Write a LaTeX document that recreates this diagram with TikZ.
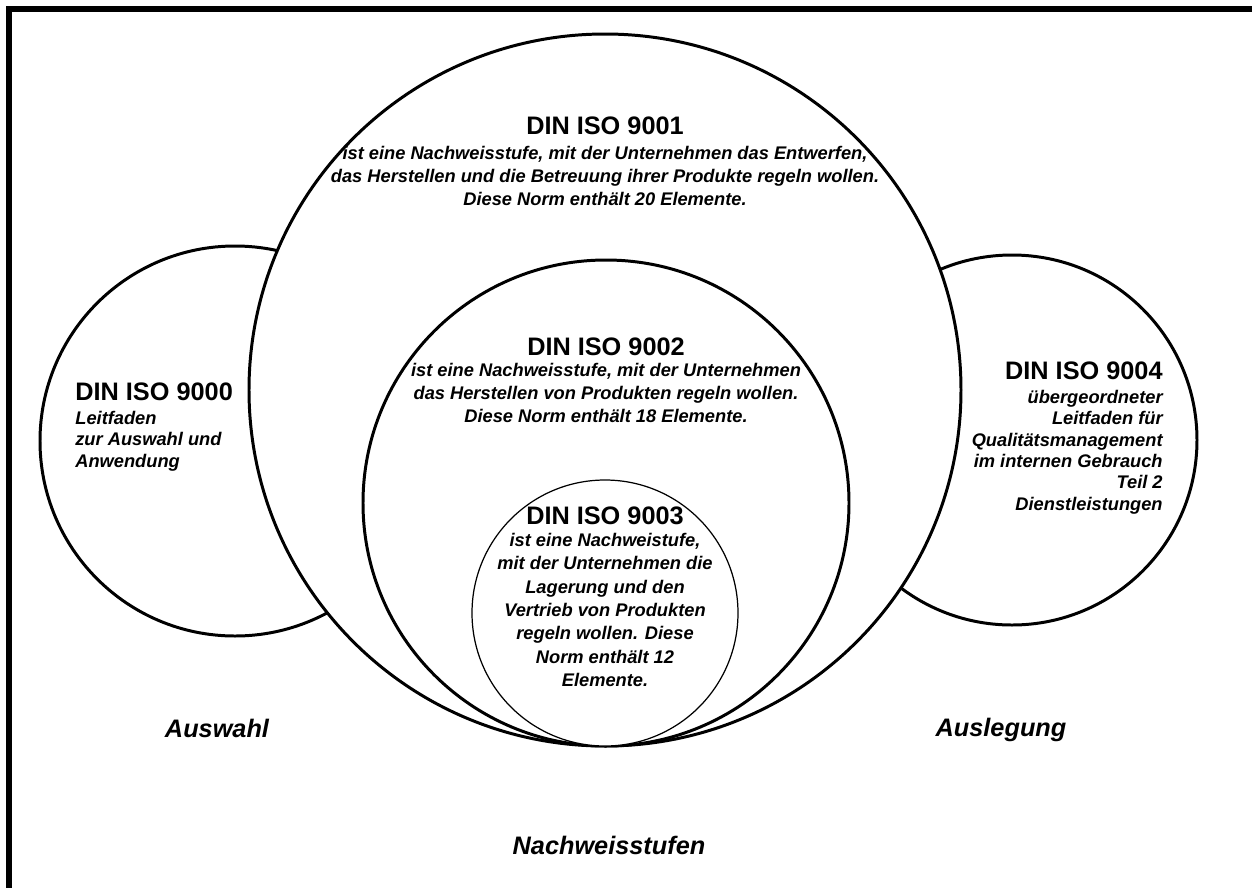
\documentclass[tikz,border=0pt]{standalone}
\usepackage{fontspec}
\setmainfont{Liberation Sans}
\begin{document}
\begin{tikzpicture}[x=0.02cm, y=-0.02cm,
  ring/.style={draw=black, fill=white, line width=1.7pt},
  thinring/.style={draw=black, fill=white, line width=0.7pt},
  head/.style={font=\fontsize{14.4}{17}\selectfont\bfseries, inner sep=0pt},
  body/.style={font=\fontsize{10.4}{13.3}\selectfont\bfseries\itshape, align=center, inner sep=0pt},
  sidebody/.style={font=\fontsize{10.4}{12.2}\selectfont\bfseries\itshape, inner sep=0pt},
  biglabel/.style={font=\fontsize{14.4}{17}\selectfont\bfseries\itshape, inner sep=0pt}]
\useasboundingbox (0,0) rectangle (1252,887);
% frame
\draw[line width=3.4pt] (9,900) -- (9,9) -- (1265,9);
% side circles
\draw[ring] (235,441) circle[radius=195];
\draw[ring] (1012,440) circle[radius=185];
% nested circles
\draw[ring] (605,390) circle[radius=356];
\draw[ring] (606,503) circle[radius=243];
\draw[thinring] (605,613) circle[radius=133];
% texts
\node[head] (h9001) at (605,126) {DIN ISO 9001};
\node[body] (b9001) at (605,176) {ist eine Nachweisstufe, mit der Unternehmen das Entwerfen,\\das Herstellen und die Betreuung ihrer Produkte regeln wollen.\\Diese Norm enthält 20 Elemente.};
\node[head] (h9002) at (606,347) {DIN ISO 9002};
\node[body] (b9002) at (606,393) {ist eine Nachweisstufe, mit der Unternehmen\\das Herstellen von Produkten regeln wollen.\\Diese Norm enthält 18 Elemente.};
\node[head] (h9003) at (605,516) {DIN ISO 9003};
\node[body] (b9003) at (605,610) {ist eine Nachweistufe,\\mit der Unternehmen die\\Lagerung und den\\Vertrieb von Produkten\\regeln wollen. Diese\\Norm enthält 12\\Elemente.};
\node[head, anchor=west] (h9000) at (75,392) {DIN ISO 9000};
\node[sidebody, align=left, anchor=west] (b9000) at (75,441) {Leitfaden\\zur Auswahl und\\Anwendung};
\node[head, anchor=east] (h9004) at (1163,371) {DIN ISO 9004};
\node[sidebody, align=right, anchor=east] (b9004) at (1163,452) {übergeordneter\\Leitfaden für\\Qualitätsmanagement\\im internen Gebrauch\\Teil 2\\Dienstleistungen};
\node[biglabel] (auswahl) at (217,728) {Auswahl};
\node[biglabel] (auslegung) at (1001,730) {Auslegung};
\node[biglabel] (nachweis) at (609,845) {Nachweisstufen};
\end{tikzpicture}
\end{document}
